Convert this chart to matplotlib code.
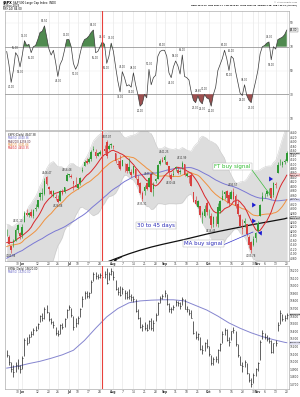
import numpy as np
import pandas as pd
import matplotlib
matplotlib.use("Agg")
import matplotlib.pyplot as plt

plt.rcParams['font.family'] = ['DejaVu Sans']

# ---------------- data ----------------
dates = pd.bdate_range("2023-05-22", "2023-11-20", freq="C",
                       holidays=["2023-05-29", "2023-06-19", "2023-07-04", "2023-09-04"])

# closes before the visible window (Mar 10 - May 19), used for the moving averages
pre_close = [3861.59, 3855.76, 3919.29, 3891.93, 3960.28, 3916.64, 3951.57, 4002.87, 3936.97, 3948.72,
             3970.99, 3977.53, 3971.27, 4027.81, 4050.83, 4109.31, 4124.51, 4100.60, 4090.38, 4105.02,
             4109.11, 4108.94, 4091.95, 4146.22, 4137.64, 4151.32, 4154.87, 4154.52, 4129.79, 4133.52,
             4137.04, 4071.63, 4055.99, 4135.35, 4169.48, 4167.87, 4119.58, 4090.75, 4061.22, 4136.25,
             4138.12, 4119.17, 4137.64, 4130.62, 4124.08, 4136.28, 4109.90, 4158.77, 4198.05, 4191.98]

spx_open = [
    4190.78, 4176.80, 4132.96, 4155.71, 4156.16, 4226.71, 4190.74,
    4183.03, 4241.01, 4282.99, 4271.34, 4285.47, 4268.69, 4304.88, 4308.32, 4352.61, 4366.29, 4365.33,
    4440.95, 4396.11, 4380.01, 4355.40, 4354.17, 4344.84, 4337.36, 4367.48, 4374.94, 4422.44,
    4450.48, 4442.04, 4422.62, 4404.54, 4394.23, 4415.55, 4467.69, 4491.50, 4514.61, 4508.86, 4521.78,
    4563.87, 4554.38, 4550.16, 4543.39, 4555.19, 4558.96, 4598.26, 4565.75, 4584.82,
    4578.83, 4550.93, 4494.27, 4513.96, 4491.58, 4498.03, 4501.57, 4487.16, 4450.69, 4458.13, 4478.87,
    4433.79, 4416.32, 4344.88, 4380.28, 4415.33, 4396.44, 4455.16, 4389.38, 4426.03, 4432.75, 4500.34, 4517.01,
    4530.60, 4510.06, 4490.35, 4434.55, 4451.30, 4480.98, 4473.27, 4462.65, 4487.78, 4497.98, 4445.13,
    4445.41, 4452.81, 4374.36, 4341.74, 4310.62, 4312.88, 4282.63, 4269.65, 4328.18,
    4284.52, 4269.75, 4233.83, 4259.31, 4234.79, 4289.02, 4339.75, 4366.59, 4380.94, 4360.49, 4342.37,
    4345.23, 4357.35, 4321.36, 4273.85, 4210.40, 4235.79, 4232.42, 4175.99, 4152.93, 4139.39, 4171.33,
    4201.27, 4268.26, 4334.23, 4364.27, 4366.21, 4384.37, 4391.41, 4364.15, 4406.66, 4458.97, 4505.30,
    4497.08, 4509.55, 4511.70]
spx_high = [
    4209.22, 4185.68, 4132.96, 4165.74, 4212.87, 4231.10, 4195.44,
    4232.43, 4290.67, 4299.28, 4288.33, 4299.19, 4298.01, 4322.62, 4340.13, 4375.37, 4391.82, 4439.20,
    4448.47, 4400.15, 4386.22, 4382.25, 4366.55, 4362.06, 4384.42, 4390.35, 4398.39, 4458.48,
    4456.46, 4454.06, 4422.62, 4440.39, 4412.60, 4443.64, 4488.34, 4517.38, 4527.76, 4532.85, 4562.30,
    4578.43, 4564.74, 4555.00, 4563.41, 4580.62, 4582.47, 4607.07, 4590.16, 4594.22,
    4584.62, 4550.93, 4519.49, 4540.34, 4519.84, 4503.31, 4502.44, 4527.37, 4476.23, 4490.33, 4478.87,
    4449.95, 4421.17, 4381.82, 4407.55, 4418.59, 4443.18, 4458.30, 4418.46, 4439.56, 4500.14, 4521.65, 4532.26,
    4541.25, 4514.29, 4490.35, 4457.81, 4473.53, 4490.77, 4487.11, 4479.39, 4511.99, 4497.98, 4466.36,
    4449.85, 4461.03, 4375.70, 4357.40, 4338.51, 4313.01, 4292.07, 4317.27, 4333.15,
    4300.58, 4281.15, 4268.50, 4267.13, 4324.10, 4341.73, 4385.46, 4378.64, 4385.85, 4377.10, 4383.33,
    4393.57, 4364.20, 4339.54, 4276.56, 4255.84, 4259.38, 4232.42, 4183.60, 4156.70, 4177.47, 4195.55,
    4245.64, 4319.72, 4373.62, 4372.21, 4386.26, 4391.20, 4393.40, 4418.03, 4421.76, 4508.67, 4521.17,
    4511.99, 4520.12, 4557.11]
spx_low = [
    4179.68, 4142.54, 4103.98, 4129.73, 4156.16, 4192.18, 4166.15,
    4171.64, 4241.01, 4266.82, 4263.09, 4263.96, 4261.07, 4291.70, 4304.37, 4337.66, 4337.85, 4362.60,
    4407.44, 4367.19, 4360.14, 4351.82, 4341.34, 4328.08, 4335.00, 4360.22, 4371.97, 4422.44,
    4442.29, 4436.61, 4385.05, 4397.40, 4389.92, 4408.46, 4463.23, 4489.36, 4499.56, 4504.90, 4514.59,
    4557.48, 4527.56, 4535.79, 4541.29, 4552.42, 4547.58, 4528.56, 4564.01, 4573.14,
    4567.53, 4505.75, 4485.54, 4474.55, 4491.15, 4464.39, 4461.33, 4457.92, 4443.98, 4453.44, 4432.19,
    4403.55, 4364.83, 4335.31, 4360.30, 4382.77, 4396.44, 4375.55, 4356.29, 4414.98, 4431.68, 4493.59, 4507.39,
    4501.35, 4496.01, 4442.38, 4430.46, 4448.38, 4467.89, 4456.83, 4453.52, 4478.69, 4447.21, 4442.11,
    4416.61, 4401.38, 4329.17, 4316.49, 4302.70, 4265.98, 4238.63, 4264.38, 4274.86,
    4260.21, 4216.45, 4220.48, 4225.91, 4219.55, 4283.79, 4339.64, 4345.34, 4325.43, 4311.97, 4342.37,
    4337.54, 4303.84, 4269.69, 4223.03, 4189.22, 4219.43, 4181.42, 4127.90, 4103.78, 4132.94, 4153.12,
    4197.74, 4268.26, 4334.23, 4347.53, 4355.41, 4359.76, 4343.94, 4353.34, 4393.82, 4458.97, 4495.31,
    4487.83, 4499.66, 4510.36]
spx_close = [
    4192.63, 4145.58, 4115.24, 4151.28, 4205.45, 4205.52, 4179.83,
    4221.02, 4282.37, 4273.79, 4283.85, 4267.52, 4293.93, 4298.86, 4338.93, 4369.01, 4372.59, 4425.84,
    4409.59, 4388.71, 4365.69, 4381.89, 4348.33, 4328.82, 4378.41, 4376.86, 4396.44, 4450.38,
    4455.59, 4446.82, 4411.59, 4398.95, 4409.53, 4439.26, 4472.16, 4510.04, 4505.42, 4522.79, 4554.98,
    4565.72, 4534.87, 4536.34, 4554.64, 4567.46, 4566.75, 4537.41, 4582.23, 4588.96,
    4576.73, 4513.39, 4501.89, 4478.03, 4518.44, 4499.38, 4467.71, 4468.83, 4464.05, 4489.72, 4437.86,
    4404.33, 4370.36, 4369.71, 4399.77, 4387.55, 4436.01, 4376.31, 4405.71, 4433.31, 4497.63, 4514.87, 4507.66,
    4515.77, 4496.83, 4465.48, 4451.14, 4457.49, 4487.46, 4461.90, 4467.44, 4505.10, 4450.32, 4453.53,
    4443.95, 4402.20, 4330.00, 4320.06, 4337.44, 4273.53, 4274.51, 4299.70, 4288.05,
    4288.39, 4229.45, 4263.75, 4258.19, 4308.50, 4335.66, 4358.24, 4376.95, 4349.61, 4327.78, 4373.63,
    4373.20, 4314.60, 4278.00, 4224.16, 4217.04, 4247.68, 4186.77, 4137.23, 4117.37, 4166.82, 4193.80,
    4237.86, 4317.78, 4358.34, 4365.98, 4378.38, 4382.78, 4347.35, 4415.24, 4411.55, 4495.70, 4502.88,
    4508.24, 4514.02, 4547.38]

# oscillator (top panel)
osc = [66, 55, 40, 50, 65, 62, 53,
       63, 75, 71, 72, 65, 70, 71, 76, 82, 83, 87.5, 78, 68, 63, 67, 57, 45, 55, 59, 67, 76,
       76, 70, 56, 51, 55, 64, 72, 76, 77, 79, 82, 84, 65, 66, 70, 74, 72, 56, 62, 73,
       66, 53, 41, 32, 49, 44, 37, 38, 36, 48, 38, 30, 20, 22, 30, 27, 51, 38, 44, 46, 62, 66, 67,
       67, 62, 48, 44, 53, 58, 54, 47, 63, 45, 44, 42, 32, 25, 23, 28.6, 24, 22, 30, 27,
       26, 20, 30, 36, 50, 55, 60, 67, 60, 50, 62, 60, 49, 40, 31, 29, 38, 29, 25, 23, 33, 41,
       50, 64, 70, 71, 73, 74, 59, 70, 68, 76, 77, 78, 80, 84]

# 200-day moving average (weekly)
sma200_dates = ["2023-07-27", "2023-08-03", "2023-08-10", "2023-08-17", "2023-08-24", "2023-08-31",
                "2023-09-08", "2023-09-15", "2023-09-22", "2023-09-29", "2023-10-06", "2023-10-13",
                "2023-10-20", "2023-10-27", "2023-11-03", "2023-11-10", "2023-11-17", "2023-11-20"]
sma200_vals = [4063, 4082, 4100, 4116, 4130, 4142, 4153, 4164, 4176, 4188, 4199, 4209,
               4219, 4229, 4238, 4247, 4256, 4259]

# lower panel index
nya_close = [
    15090, 14990, 14900, 14870, 14960, 14940, 14900,
    15050, 15290, 15250, 15330, 15360, 15420, 15420, 15500, 15600, 15580, 15700, 15660, 15560, 15520,
    15480, 15380, 15360, 15480, 15460, 15560, 15680,
    15720, 15620, 15460, 15510, 15580, 15690, 15830, 15900, 15860, 15900, 16050, 16150, 16130, 16120,
    16140, 16120, 16160, 16040, 16150, 16200,
    16110, 15960, 15920, 15880, 15960, 15910, 15850, 15860, 15850, 15830, 15670, 15570, 15460, 15470,
    15450, 15420, 15530, 15440, 15510, 15620, 15770, 15840, 15860,
    15900, 15760, 15700, 15690, 15720, 15790, 15770, 15730, 15820, 15700, 15690, 15640, 15580, 15380,
    15330, 15360, 15170, 15150, 15240, 15200,
    15100, 14980, 15040, 15030, 15150, 15230, 15360, 15420, 15290, 15260, 15400, 15420, 15230, 15090,
    14960, 14940, 14990, 14850, 14760, 14700, 14830, 14900,
    14980, 15260, 15380, 15330, 15300, 15270, 15130, 15240, 15250, 15480, 15640, 15560, 15580, 15620]
nya_high = [
    15150, 15090, 14990, 14950, 14990, 15040, 14960,
    15080, 15310, 15320, 15360, 15410, 15450, 15470, 15510, 15620, 15640, 15720, 15740, 15650, 15580,
    15530, 15460, 15420, 15500, 15510, 15570, 15700,
    15740, 15710, 15600, 15580, 15600, 15710, 15870, 15930, 15930, 15920, 16070, 16180, 16180, 16160,
    16170, 16170, 16190, 16230, 16180, 16230,
    16190, 16080, 15980, 16000, 15980, 15950, 15930, 15960, 15890, 15870, 15820, 15690, 15590, 15490,
    15520, 15490, 15550, 15580, 15550, 15640, 15790, 15870, 15890,
    15950, 15890, 15770, 15720, 15750, 15810, 15800, 15790, 15850, 15820, 15730, 15700, 15680, 15540,
    15400, 15380, 15330, 15220, 15260, 15300,
    15210, 15090, 15060, 15070, 15170, 15250, 15400, 15440, 15430, 15330, 15410, 15460, 15400, 15230,
    15080, 15000, 15020, 14980, 14850, 14790, 14850, 14920,
    15000, 15280, 15420, 15380, 15350, 15320, 15290, 15250, 15280, 15520, 15680, 15630, 15610, 15640]
nya_low = [
    15060, 14960, 14870, 14800, 14860, 14900, 14850,
    14900, 15080, 15220, 15240, 15320, 15350, 15400, 15430, 15520, 15540, 15560, 15640, 15530, 15490,
    15450, 15350, 15340, 15360, 15430, 15460, 15580,
    15680, 15590, 15420, 15460, 15500, 15590, 15720, 15830, 15840, 15840, 15900, 16060, 16090, 16090,
    16100, 16090, 16100, 16020, 16070, 16140,
    16080, 15940, 15880, 15860, 15890, 15830, 15830, 15820, 15800, 15790, 15650, 15560, 15440, 15400,
    15420, 15400, 15430, 15420, 15400, 15540, 15610, 15770, 15830,
    15850, 15740, 15650, 15640, 15680, 15730, 15730, 15700, 15740, 15690, 15660, 15610, 15570, 15370,
    15300, 15290, 15150, 15100, 15140, 15180,
    15080, 14960, 14960, 14990, 14980, 15140, 15240, 15350, 15270, 15210, 15280, 15380, 15210, 15060,
    14950, 14870, 14930, 14840, 14730, 14670, 14720, 14810,
    14880, 15020, 15300, 15300, 15270, 15240, 15110, 15120, 15210, 15400, 15500, 15540, 15540, 15560]

nya_ma_dates = ["2023-05-22", "2023-05-30", "2023-06-06", "2023-06-13", "2023-06-21", "2023-06-28",
                "2023-07-06", "2023-07-13", "2023-07-20", "2023-07-27", "2023-08-03", "2023-08-10",
                "2023-08-17", "2023-08-24", "2023-08-31", "2023-09-08", "2023-09-15", "2023-09-22",
                "2023-09-29", "2023-10-06", "2023-10-13", "2023-10-20", "2023-10-27", "2023-11-03",
                "2023-11-10", "2023-11-17", "2023-11-20"]
nya_ma_vals = [14915, 14940, 14975, 15005, 15045, 15090, 15150, 15280, 15440, 15590, 15700, 15775,
               15800, 15810, 15815, 15815, 15800, 15740, 15680, 15600, 15510, 15440, 15380, 15330,
               15290, 15255, 15250]

label_hi_dates = ["2023-05-30", "2023-06-16", "2023-06-30", "2023-07-27", "2023-08-23",
                  "2023-09-01", "2023-09-14", "2023-10-17"]
label_lo_dates = ["2023-05-24", "2023-06-26", "2023-08-18", "2023-09-07", "2023-10-03", "2023-10-27"]
marker_date = "2023-07-25"
bb_period, bb_mult = 20, 2.5

# ---------------- derived ----------------
n = len(dates)
x = np.arange(n)
o = np.array(spx_open); h = np.array(spx_high); l = np.array(spx_low); c = np.array(spx_close)
allc = pd.Series(np.r_[pre_close, spx_close])
sma10 = allc.rolling(10).mean().values[-n:]
sma20 = allc.rolling(20).mean().values[-n:]
sma50 = allc.rolling(50).mean().values[-n:]
bb_mid = allc.rolling(bb_period).mean().values[-n:]
sd = allc.rolling(bb_period).std(ddof=0).values[-n:]
bb_up = bb_mid + bb_mult * sd
bb_lo = bb_mid - bb_mult * sd
prev = np.r_[pre_close[-1], c[:-1]]
osc_a = np.array(osc, dtype=float)
s200_x = dates.get_indexer(pd.to_datetime(sma200_dates))
nma_x = dates.get_indexer(pd.to_datetime(nya_ma_dates))
mark_x = dates.get_loc(pd.Timestamp(marker_date))

# ---------------- figure ----------------
W, H = 300, 397
fig = plt.figure(figsize=(W / 100, H / 100), dpi=100)
fig.patch.set_facecolor('white')
LEFT, RIGHT = 5, 289


def fr(top, bot):
    return [LEFT / W, 1 - bot / H, (RIGHT - LEFT) / W, (bot - top) / H]


ax1 = fig.add_axes(fr(11, 130))
ax2 = fig.add_axes(fr(131, 261))
ax3 = fig.add_axes(fr(266, 389))
XL = (-0.77, 127.0)

# weekly / month tick positions
mpos, wpos = [], []
for p in range(n):
    d = dates[p]
    if p == 0 or d.month != dates[p - 1].month:
        mpos.append(p)
for p in range(n):
    d = dates[p]
    if p in mpos:
        continue
    if p == 0 or d.weekday() < dates[p - 1].weekday():
        skip = any((0 < m - p <= 1) or (0 < p - m <= 2) for m in mpos)
        if not skip:
            wpos.append(p)
mpos = [m for m in mpos if m > 0]
tick_pos = sorted(mpos + wpos)
tick_lab = [dates[p].strftime('%b') if p in mpos else str(dates[p].day) for p in tick_pos]

small = 2.1
for ax in (ax1, ax2, ax3):
    ax.set_xlim(*XL)
    ax.set_facecolor('white')
    for s in ax.spines.values():
        s.set_color('#9a9a9a'); s.set_linewidth(0.4)
    ax.yaxis.tick_right()
    ax.tick_params(axis='both', length=0, labelsize=small, pad=0.6, colors='#333333')
    for tp in tick_pos:
        ax.axvline(tp, color='#e4e4e4', lw=0.4, zorder=0)
    ax.axvline(mark_x, color='#e8413c', lw=0.8, zorder=6)
    ax.set_xticks(tick_pos)
    ax.set_xticklabels(tick_lab)
ax1.set_xticklabels([])
for ax in (ax2, ax3):
    for lab, tp in zip(ax.get_xticklabels(), tick_pos):
        if tp in mpos:
            lab.set_fontweight('bold')

# ---- top oscillator ----
ax1.set_ylim(0, 100)
ax1.set_yticks([10, 30, 50, 70, 90])
for yv in (10, 50, 90):
    ax1.axhline(yv, color='#ececec', lw=0.35, zorder=0)
ax1.axhline(70, color='#9a9a9a', lw=0.6, zorder=1)
ax1.axhline(30, color='#9a9a9a', lw=0.6, zorder=1)
ax1.fill_between(x, osc_a, 70, where=osc_a >= 70, interpolate=True, color='#4f8a4f', lw=0, zorder=2)
ax1.fill_between(x, osc_a, 30, where=osc_a <= 30, interpolate=True, color='#9d4f4f', lw=0, zorder=2)
ax1.plot(x, osc_a, color='#3a3a3a', lw=0.5, zorder=3)
for p in range(1, n - 1):
    win = osc_a[max(0, p - 2):p + 3]
    if osc_a[p] == win.max() and osc_a[p] > osc_a[p - 1]:
        ax1.text(p, osc_a[p] + 2.5, f"{osc_a[p]:.2f}", fontsize=1.8, ha='center', va='bottom', color='#333')
    elif osc_a[p] == win.min() and osc_a[p] < osc_a[p - 1]:
        ax1.text(p, osc_a[p] - 2.5, f"{osc_a[p]:.2f}", fontsize=1.8, ha='center', va='top', color='#333')
ax1.text(1.004, osc_a[-1], f"{osc_a[-1]:.2f}", transform=ax1.get_yaxis_transform(), fontsize=1.9,
         va='center', ha='left', color='black',
         bbox=dict(boxstyle='square,pad=0.15', fc='#f4f4f4', ec='#777', lw=0.3))

# ---- middle price ----
ax2.set_ylim(4068, 4647)
ax2.set_yticks(np.arange(4080, 4641, 20))
ax2.fill_between(x, bb_lo, bb_up, color='#dddddd', lw=0, zorder=1)
ax2.plot(x, bb_up, color='#c6c6c6', lw=0.3, zorder=1)
ax2.plot(x, bb_lo, color='#c6c6c6', lw=0.3, zorder=1)
ax2.plot(s200_x, sma200_vals, color='#111111', lw=0.9, zorder=3)
ax2.plot(x, sma50, color='#7a78d4', lw=0.7, zorder=3)
ax2.plot(x, sma20, color='#f0913e', lw=0.7, zorder=3)
ax2.plot(x, sma10, color='#d9262a', lw=0.7, zorder=3)
cols = np.where(c >= prev, '#2f9a35', '#d8403f')
ax2.vlines(x, l, h, colors=cols, lw=0.45, zorder=4)
ax2.bar(x, np.maximum(np.abs(c - o), 0.8), bottom=np.minimum(o, c), width=0.7, color=cols, lw=0, zorder=4)
for dstr in label_hi_dates:
    p = dates.get_loc(pd.Timestamp(dstr))
    ax2.text(p, h[p] + 4, f"{h[p]:.2f}", fontsize=1.8, ha='center', va='bottom', color='#333', zorder=7)
for dstr in label_lo_dates:
    p = dates.get_loc(pd.Timestamp(dstr))
    ax2.text(p, l[p] - 4, f"{l[p]:.2f}", fontsize=1.8, ha='center', va='top', color='#333', zorder=7)
ytr2 = ax2.get_yaxis_transform()
for val, ec in ((c[-1], '#555'), (sma10[-1], '#d9262a'), (sma50[-1], '#7a78d4'), (sma200_vals[-1], '#111')):
    ax2.text(1.004, val, f"{val:.2f}", transform=ytr2, fontsize=1.7, va='center', ha='left',
             color='black', bbox=dict(boxstyle='square,pad=0.15', fc='#f4f4f4', ec=ec, lw=0.3))
leg2 = [(f"$SPX (Daily) {c[-1]:.2f}", '#111'),
        (f"MA(50) {sma50[-1]:.2f}", '#6a68c8'),
        (f"MA(200) {sma200_vals[-1]:.2f}", '#5a2a3a'),
        (f"MA(20) {sma20[-1]:.2f}", '#e07f2a'),
        (f"MA(10) {sma10[-1]:.2f}", '#d9262a')]
for k, (t, col) in enumerate(leg2):
    ax2.text(0.012, 0.985 - k * 0.026, t, transform=ax2.transAxes, fontsize=1.9, color=col,
             va='top', ha='left', zorder=8)

# ---- bottom panel ----
nc = np.array(nya_close); nh = np.array(nya_high); nl = np.array(nya_low)
ax3.set_ylim(14640, 16260)
ax3.set_yticks(np.arange(14700, 16201, 100))
ax3.plot(nma_x, nya_ma_vals, color='#8585cf', lw=0.7, zorder=2)
ax3.vlines(x, nl, nh, colors='#222222', lw=0.5, zorder=3)
ax3.hlines(nc, x, x + 0.45, colors='#222222', lw=0.5, zorder=3)
ytr3 = ax3.get_yaxis_transform()
for val, ec in ((nc[-1], '#555'), (nya_ma_vals[-1], '#8585cf')):
    ax3.text(1.004, val, f"{val:.2f}", transform=ytr3, fontsize=1.7, va='center', ha='left',
             color='black', bbox=dict(boxstyle='square,pad=0.15', fc='#f4f4f4', ec=ec, lw=0.3))
ax3.text(0.012, 0.99, f"$NYA (Daily) {nc[-1]:.2f}", transform=ax3.transAxes, fontsize=1.9,
         color='#111', va='top', ha='left')
ax3.text(0.012, 0.965, f"MA(50) {nya_ma_vals[-1]:.2f}", transform=ax3.transAxes, fontsize=1.9,
         color='#6a68c8', va='top', ha='left')

# ---------------- header ----------------
def F(xp, yp):
    return (xp / W, 1 - yp / H)

fig.text(*F(3, 1.2), "$SPX", fontsize=2.4, fontweight='bold', va='top', ha='left')
fig.text(*F(13, 1.4), "S&P 500 Large Cap Index  INDX", fontsize=2.0, va='top', ha='left')
fig.text(*F(3, 4.4), dates[-1].strftime('%d-%b-%Y'), fontsize=2.0, va='top', ha='left')
fig.text(*F(3, 7.4), f"RSI(14) {osc_a[-1]:.2f}", fontsize=2.0, va='top', ha='left')
fig.text(*F(297, 1.2), "© StockCharts.com", fontsize=1.7, va='top', ha='right', color='#555')
chg = c[-1] - c[-2]
fig.text(*F(297, 4.6),
         f"Open {o[-1]:.2f}  High {h[-1]:.2f}  Low {l[-1]:.2f}  Close {c[-1]:.2f}  Volume 2.2B  "
         f"Chg {chg:+.2f} ({chg / c[-2] * 100:+.2f}%)",
         fontsize=1.45, va='top', ha='right', fontweight='bold')

# ---------------- annotations ----------------
box = dict(boxstyle='square,pad=0.25', fc='white', ec='#aaaaaa', lw=0.3)
fig.text(*F(232.5, 166.5), "FT buy signal", fontsize=4.0, color='#2dbb2d', ha='center', va='center', bbox=box)
fig.text(*F(156, 225.5), "30 to 45 days", fontsize=4.0, color='#2a2ab8', ha='center', va='center', bbox=box)
fig.text(*F(203.5, 243.5), "MA buy signal", fontsize=4.0, color='#2a2ab8', ha='center', va='center', bbox=box)
fig.add_artist(plt.Line2D([252 / W, 271 / W], [1 - 170 / H, 1 - 196 / H], color='#3cba3c', lw=0.5))
fig.add_artist(plt.Line2D([223 / W, 253 / W], [1 - 245 / H, 1 - 232 / H], color='#3535cc', lw=0.5))
ax2.annotate("", xy=(111, H - 262), xytext=(124, H - 256), xycoords='figure pixels',
             textcoords='figure pixels', arrowprops=dict(arrowstyle='-|>', color='#111', lw=0.6,
                                                         mutation_scale=3))

arrows = [(273, 179, 1, 0), (256, 205, 1, 0), (256, 221, 1, 0), (262, 231, 0.6, 0.8),
          (263, 332, 1, 0), (254, 356, 1, 0), (254, 371, 1, 0), (274, 347, 1, 0)]
for (ax_, ay_, dx, dy) in arrows:
    ax2.annotate("", xy=(ax_ + 2.8 * dx, H - ay_ + 2.8 * dy), xytext=(ax_ - 2.8 * dx, H - ay_ - 2.8 * dy),
                 xycoords='figure pixels', textcoords='figure pixels',
                 arrowprops=dict(arrowstyle='simple,head_length=0.7,head_width=0.9,tail_width=0.45',
                                 color='#1a1ad0', lw=0, mutation_scale=4), annotation_clip=False)

fig.savefig("out.png", dpi=100, facecolor='white')
